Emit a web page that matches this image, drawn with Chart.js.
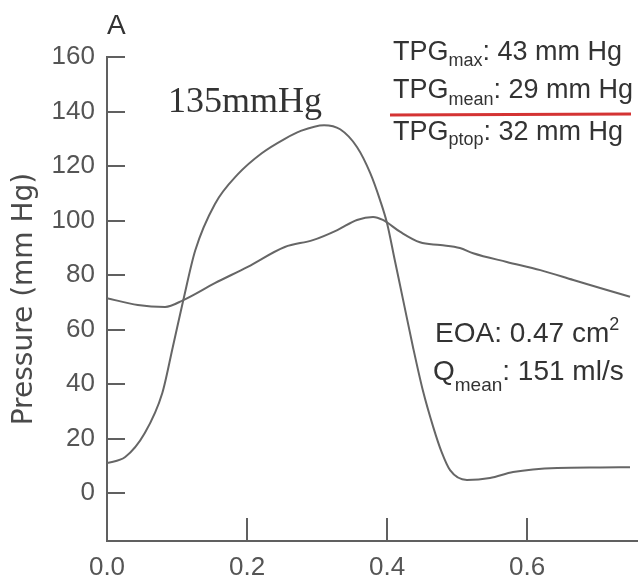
<!DOCTYPE html>
<html>
<head>
<meta charset="utf-8">
<script src="https://cdn.jsdelivr.net/npm/chart.js@4/dist/chart.umd.min.js"></script>
<style>
  html, body { margin: 0; padding: 0; background: #ffffff; }
  canvas { display: block; }
</style>
</head>
<body>
<canvas id="chart" width="644" height="582"></canvas>
<script>
// Left ventricular pressure over one beat (time in s, pressure in mm Hg)
const lvTime = [0, 0.026, 0.054, 0.079, 0.094, 0.109, 0.126, 0.154, 0.187, 0.221, 0.254, 0.276,
  0.31, 0.333, 0.357, 0.376, 0.39, 0.4, 0.411, 0.423, 0.437, 0.451, 0.466, 0.478, 0.49, 0.514,
  0.547, 0.58, 0.643, 0.705, 0.747];
const lvPressure = [11, 13.2, 22, 36.7, 53.6, 70.8, 89, 106, 117, 124.7, 130, 132.8,
  135, 133.5, 127, 117.4, 107.5, 99, 85.5, 70.8, 53.6, 37.8, 24.2, 15, 8.4, 4.8,
  5.5, 7.7, 9.2, 9.4, 9.5];

// Aortic pressure over the same beat
const aoTime = [0, 0.044, 0.083, 0.109, 0.154, 0.201, 0.254, 0.294, 0.329, 0.357, 0.38, 0.394,
  0.419, 0.447, 0.476, 0.504, 0.523, 0.571, 0.619, 0.666, 0.714, 0.747];
const aoPressure = [71.5, 69, 68.3, 70.8, 77, 83, 90.3, 92.8, 96.5, 100.2, 101.3, 100.2,
  95.8, 92, 91, 89.9, 88, 84.8, 81.8, 78.2, 74.5, 72];

// Axis ticks and ranges
const xTicks = [0, 0.2, 0.4, 0.6];
const yTicks = [0, 20, 40, 60, 80, 100, 120, 140, 160];
const xRange = [0, 0.757];
const yRange = [-17.6, 160];

// Text shown on the plot
const panelLetter = 'A';
const yTitle = 'Pressure (mm Hg)';
const peakLabel = '135mmHg';
const gradientLines = [
  ['TPG', 'max', ': 43 mm Hg'],
  ['TPG', 'mean', ': 29 mm Hg'],
  ['TPG', 'ptop', ': 32 mm Hg']
];
const eoaLabel = ['EOA: 0.47 cm', '2'];
const flowLabel = ['Q', 'mean', ': 151 ml/s'];

const ink = '#333333';
const curveColor = '#666666';
const axisColor = '#606060';
const sansFont = "'Liberation Sans', Arial, sans-serif";

function toPoints(xs, ys) {
  return xs.map((x, i) => ({ x: x, y: ys[i] }));
}

// Writes a run of text pieces: [text, fontSize, baselineShift]
function writeRun(ctx, x, y, pieces) {
  let cx = x;
  pieces.forEach(([text, size, shift]) => {
    ctx.font = size + 'px ' + sansFont;
    ctx.fillText(text, cx, y + shift);
    cx += ctx.measureText(text).width;
  });
}

// Tick marks pointing into the plot area, placed by each scale
const innerTicks = {
  id: 'innerTicks',
  afterDatasetsDraw(chart) {
    const ctx = chart.ctx;
    const area = chart.chartArea;
    const xs = chart.scales.x;
    const ys = chart.scales.y;
    ctx.save();
    ctx.strokeStyle = axisColor;
    ctx.lineWidth = 2;
    ctx.beginPath();
    ys.ticks.forEach(t => {
      const py = Math.round(ys.getPixelForValue(t.value));
      ctx.moveTo(area.left, py);
      ctx.lineTo(area.left + 18, py);
    });
    xs.ticks.forEach(t => {
      if (t.value === 0) return;
      const px = Math.round(xs.getPixelForValue(t.value));
      ctx.moveTo(px, area.bottom);
      ctx.lineTo(px, area.bottom - 23);
    });
    ctx.stroke();
    ctx.restore();
  }
};

const annotations = {
  id: 'annotations',
  afterDraw(chart) {
    const ctx = chart.ctx;
    ctx.save();
    ctx.fillStyle = ink;
    ctx.textAlign = 'left';
    ctx.textBaseline = 'alphabetic';

    ctx.font = '28px ' + sansFont;
    ctx.fillText(panelLetter, 107, 34);

    ctx.font = "36px 'Liberation Serif', 'Times New Roman', serif";
    ctx.fillText(peakLabel, 168, 112);

    const baselines = [60, 98, 140];
    const subShift = [6, 7, 5];
    gradientLines.forEach((parts, i) => {
      writeRun(ctx, 393, baselines[i], [
        [parts[0], 27, 0], [parts[1], 18, subShift[i]], [parts[2], 27, 0]
      ]);
    });

    ctx.strokeStyle = '#d43333';
    ctx.lineWidth = 3;
    ctx.beginPath();
    ctx.moveTo(390, 115);
    ctx.lineTo(631, 114);
    ctx.stroke();

    writeRun(ctx, 435, 342, [[eoaLabel[0], 28, 0], [eoaLabel[1], 18, -12]]);
    writeRun(ctx, 433, 380, [
      [flowLabel[0], 28, 0], [flowLabel[1], 19, 11], [flowLabel[2], 28, 0]
    ]);
    ctx.restore();
  }
};

new Chart(document.getElementById('chart'), {
  type: 'line',
  data: {
    datasets: [
      {
        label: 'LV',
        data: toPoints(lvTime, lvPressure),
        borderColor: curveColor,
        borderWidth: 2,
        pointRadius: 0,
        fill: false,
        cubicInterpolationMode: 'monotone'
      },
      {
        label: 'Aorta',
        data: toPoints(aoTime, aoPressure),
        borderColor: curveColor,
        borderWidth: 2,
        pointRadius: 0,
        fill: false,
        cubicInterpolationMode: 'monotone'
      }
    ]
  },
  options: {
    responsive: false,
    animation: false,
    events: [],
    layout: { autoPadding: false, padding: { left: 0, top: 57, right: 7, bottom: 0 } },
    plugins: { legend: { display: false }, tooltip: { enabled: false } },
    scales: {
      x: {
        type: 'linear',
        min: xRange[0],
        max: xRange[1],
        afterBuildTicks: (s) => { s.ticks = xTicks.map(v => ({ value: v })); },
        afterFit: (s) => { s.height = 41; },
        border: { display: true, color: axisColor, width: 2 },
        grid: { drawOnChartArea: false, drawTicks: false },
        ticks: {
          padding: 11,
          maxRotation: 0,
          color: '#555555',
          font: { family: sansFont, size: 26 },
          callback: (v) => Number(v).toFixed(1)
        }
      },
      y: {
        type: 'linear',
        min: yRange[0],
        max: yRange[1],
        afterBuildTicks: (s) => { s.ticks = yTicks.map(v => ({ value: v })); },
        afterFit: (s) => { s.width = 107; },
        border: { display: true, color: axisColor, width: 2 },
        grid: { drawOnChartArea: false, drawTicks: false },
        ticks: {
          padding: 12,
          color: '#555555',
          font: { family: sansFont, size: 26 }
        },
        title: {
          display: true,
          text: yTitle,
          color: '#4a4a4a',
          padding: { top: 8, bottom: 0 },
          font: { family: "'DejaVu Sans', sans-serif", size: 28, lineHeight: 1.2 }
        }
      }
    }
  },
  plugins: [innerTicks, annotations]
});
</script>
</body>
</html>
